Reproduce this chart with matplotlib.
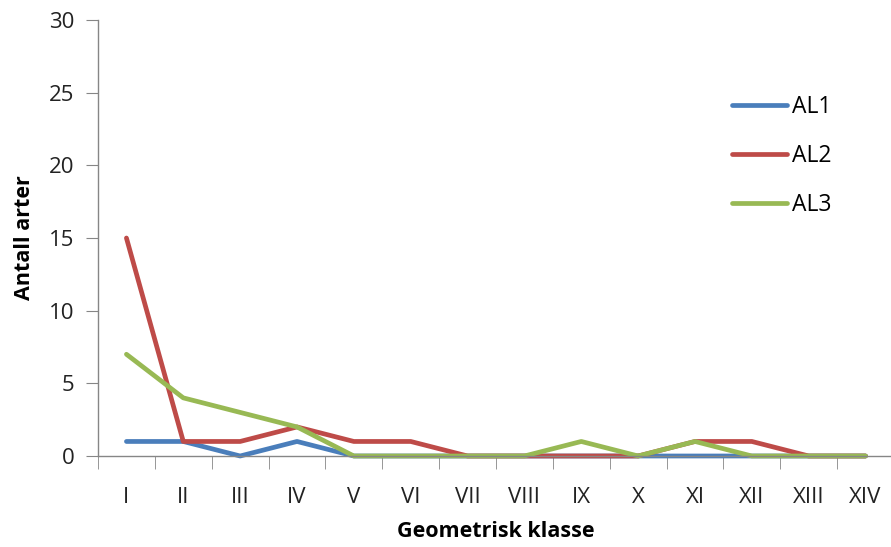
import numpy as np
import matplotlib
matplotlib.use("Agg")
import matplotlib.pyplot as plt

plt.rcParams['font.family'] = ['Open Sans', 'DejaVu Sans']

classes = ["I", "II", "III", "IV", "V", "VI", "VII", "VIII", "IX", "X", "XI", "XII", "XIII", "XIV"]
al1 = [1, 1, 0, 1, 0, 0, 0, 0, 0, 0, 0, 0, 0, 0]
al2 = [15, 1, 1, 2, 1, 1, 0, 0, 0, 0, 1, 1, 0, 0]
al3 = [7, 4, 3, 2, 0, 0, 0, 0, 1, 0, 1, 0, 0, 0]
series_names = ["AL1", "AL2", "AL3"]
colors = ["#4A7EBB", "#BE4B48", "#98B954"]

fig = plt.figure(figsize=(8.91, 5.47), dpi=100)
ax = fig.add_axes([98/891, 1-456/547, (894-98)/891, (456-20)/547])

x = np.arange(len(classes))
lines = []
for vals, name, c in zip([al1, al2, al3], series_names, colors):
    l, = ax.plot(x, vals, color=c, lw=3.4, label=name, solid_capstyle='round',
                 solid_joinstyle='round', clip_on=False)
    lines.append(l)

ax.set_xlim(-0.5, len(classes) - 0.5)
ax.set_ylim(0, 30)
ax.set_yticks(range(0, 31, 5))
ax.set_xticks(x)
ax.set_xticklabels(classes)
ax.set_xticks(np.arange(-0.5, len(classes), 1), minor=True)

grey = "#868686"
for s in ["top", "right"]:
    ax.spines[s].set_visible(False)
for s in ["left", "bottom"]:
    ax.spines[s].set_color(grey)
    ax.spines[s].set_linewidth(1)

ax.tick_params(axis='x', which='major', length=0, pad=22, labelsize=16, labelcolor="#222222")
ax.tick_params(axis='x', which='minor', length=9, color=grey, direction='out')
ax.tick_params(axis='y', length=9, color=grey, labelsize=16, labelcolor="#222222", pad=8)

ax.set_xlabel("Geometrisk klasse", fontsize=15.5, fontweight='bold', labelpad=10)
ax.set_ylabel("Antall arter", fontsize=15.5, fontweight='bold', labelpad=10)

ax.legend(handles=lines, loc='upper left', bbox_to_anchor=(0.796, 0.827), frameon=False,
          fontsize=16.5, handlelength=2.4, labelspacing=1.08, handletextpad=0.25,
          borderaxespad=0, borderpad=0)

fig.savefig("out.png", dpi=100)
